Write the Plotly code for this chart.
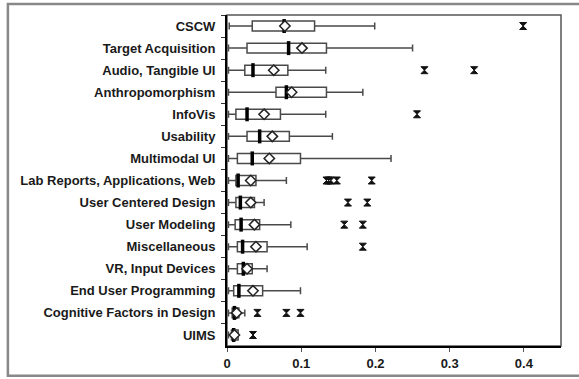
import plotly.graph_objects as go

categories = ["CSCW", "Target Acquisition", "Audio, Tangible UI", "Anthropomorphism",
              "InfoVis", "Usability", "Multimodal UI", "Lab Reports, Applications, Web",
              "User Centered Design", "User Modeling", "Miscellaneous", "VR, Input Devices",
              "End User Programming", "Cognitive Factors in Design", "UIMS"]
lower_whisker = [0.003, 0.002, 0.002, 0.002, 0.002, 0.002, 0.002, 0.002,
                 0.002, 0.002, 0.002, 0.002, 0.002, 0.002, 0.002]
q1 = [0.034, 0.027, 0.024, 0.066, 0.012, 0.027, 0.014, 0.012,
      0.012, 0.011, 0.014, 0.014, 0.009, 0.007, 0.006]
median = [0.077, 0.083, 0.035, 0.080, 0.027, 0.044, 0.034, 0.015,
          0.018, 0.019, 0.021, 0.022, 0.016, 0.010, 0.009]
q3 = [0.118, 0.134, 0.082, 0.134, 0.072, 0.084, 0.099, 0.039,
      0.037, 0.044, 0.054, 0.034, 0.048, 0.016, 0.015]
upper_whisker = [0.199, 0.250, 0.133, 0.183, 0.133, 0.142, 0.221, 0.080,
                 0.050, 0.086, 0.108, 0.054, 0.099, 0.024, 0.015]
mean = [0.078, 0.101, 0.063, 0.087, 0.050, 0.061, 0.057, 0.032,
        0.032, 0.037, 0.039, 0.027, 0.035, 0.013, 0.010]
outlier_cats = ["CSCW", "Audio, Tangible UI", "Audio, Tangible UI", "InfoVis",
                "Lab Reports, Applications, Web", "Lab Reports, Applications, Web",
                "Lab Reports, Applications, Web", "Lab Reports, Applications, Web",
                "Lab Reports, Applications, Web",
                "User Centered Design", "User Centered Design",
                "User Modeling", "User Modeling", "Miscellaneous",
                "Cognitive Factors in Design", "Cognitive Factors in Design",
                "Cognitive Factors in Design", "UIMS"]
outlier_vals = [0.399, 0.266, 0.333, 0.256,
                0.134, 0.137, 0.140, 0.148, 0.195,
                0.163, 0.189,
                0.158, 0.183, 0.183,
                0.041, 0.080, 0.099, 0.035]
x_ticks = [0, 0.1, 0.2, 0.3, 0.4]
x_tick_labels = ["0", "0.1", "0.2", "0.3", "0.4"]

fig = go.Figure()
fig.add_trace(go.Box(
    y=categories, q1=q1, median=median, q3=q3,
    lowerfence=lower_whisker, upperfence=upper_whisker,
    orientation="h", width=0.45, whiskerwidth=0.7,
    fillcolor="white", line=dict(color="#4a4a4a", width=1.5),
    boxpoints=False, hoverinfo="skip", showlegend=False))
fig.add_trace(go.Scatter(
    x=median, y=categories, mode="markers",
    marker=dict(symbol="line-ns", size=10, line=dict(color="black", width=3.5)),
    showlegend=False, hoverinfo="skip"))
fig.add_trace(go.Scatter(
    x=mean, y=categories, mode="markers",
    marker=dict(symbol="diamond", size=8, color="white",
                line=dict(color="#222222", width=1.5)),
    showlegend=False, hoverinfo="skip"))
fig.add_trace(go.Scatter(
    x=outlier_vals, y=outlier_cats, mode="markers",
    marker=dict(symbol="hourglass", size=7, color="#111111",
                line=dict(color="#111111", width=1)),
    showlegend=False, hoverinfo="skip"))

label_font = dict(size=13, family="Liberation Sans, Arial", weight="bold", color="#1a1a1a")
fig.update_layout(
    width=579, height=379,
    margin=dict(l=227, r=18, t=15, b=33, autoexpand=False),
    paper_bgcolor="white", plot_bgcolor="white",
    font=dict(family="Liberation Sans, Arial", color="#1a1a1a"),
    xaxis=dict(range=[0, 0.45], tickvals=x_ticks, ticktext=x_tick_labels, automargin=False,
               showgrid=False, zeroline=False, showline=True, linecolor="black", linewidth=2,
               ticks="outside", ticklen=4, tickcolor="#555555", tickfont=label_font),
    yaxis=dict(categoryorder="array", categoryarray=categories,
               range=[len(categories) - 0.5, -0.5], autorange=False,
               automargin=False,
               showgrid=False, zeroline=False, showline=True, linecolor="black", linewidth=2,
               ticks="outside", ticklen=4, tickcolor="#333333", tickson="boundaries",
               ticklabelstandoff=7, tickfont=label_font),
    shapes=[
        dict(type="rect", xref="paper", yref="paper", x0=0, x1=1, y0=0, y1=1,
             line=dict(color="#555555", width=1.5), layer="below"),
        dict(type="rect", xref="paper", yref="paper", x0=-0.656, x1=1.07, y0=-0.09, y1=1.033,
             line=dict(color="#888888", width=2.5), layer="below"),
    ],
)

fig.write_html("out.html", config={"displayModeBar": False},
               post_script="document.body.style.margin='0';document.body.style.padding='0';")
